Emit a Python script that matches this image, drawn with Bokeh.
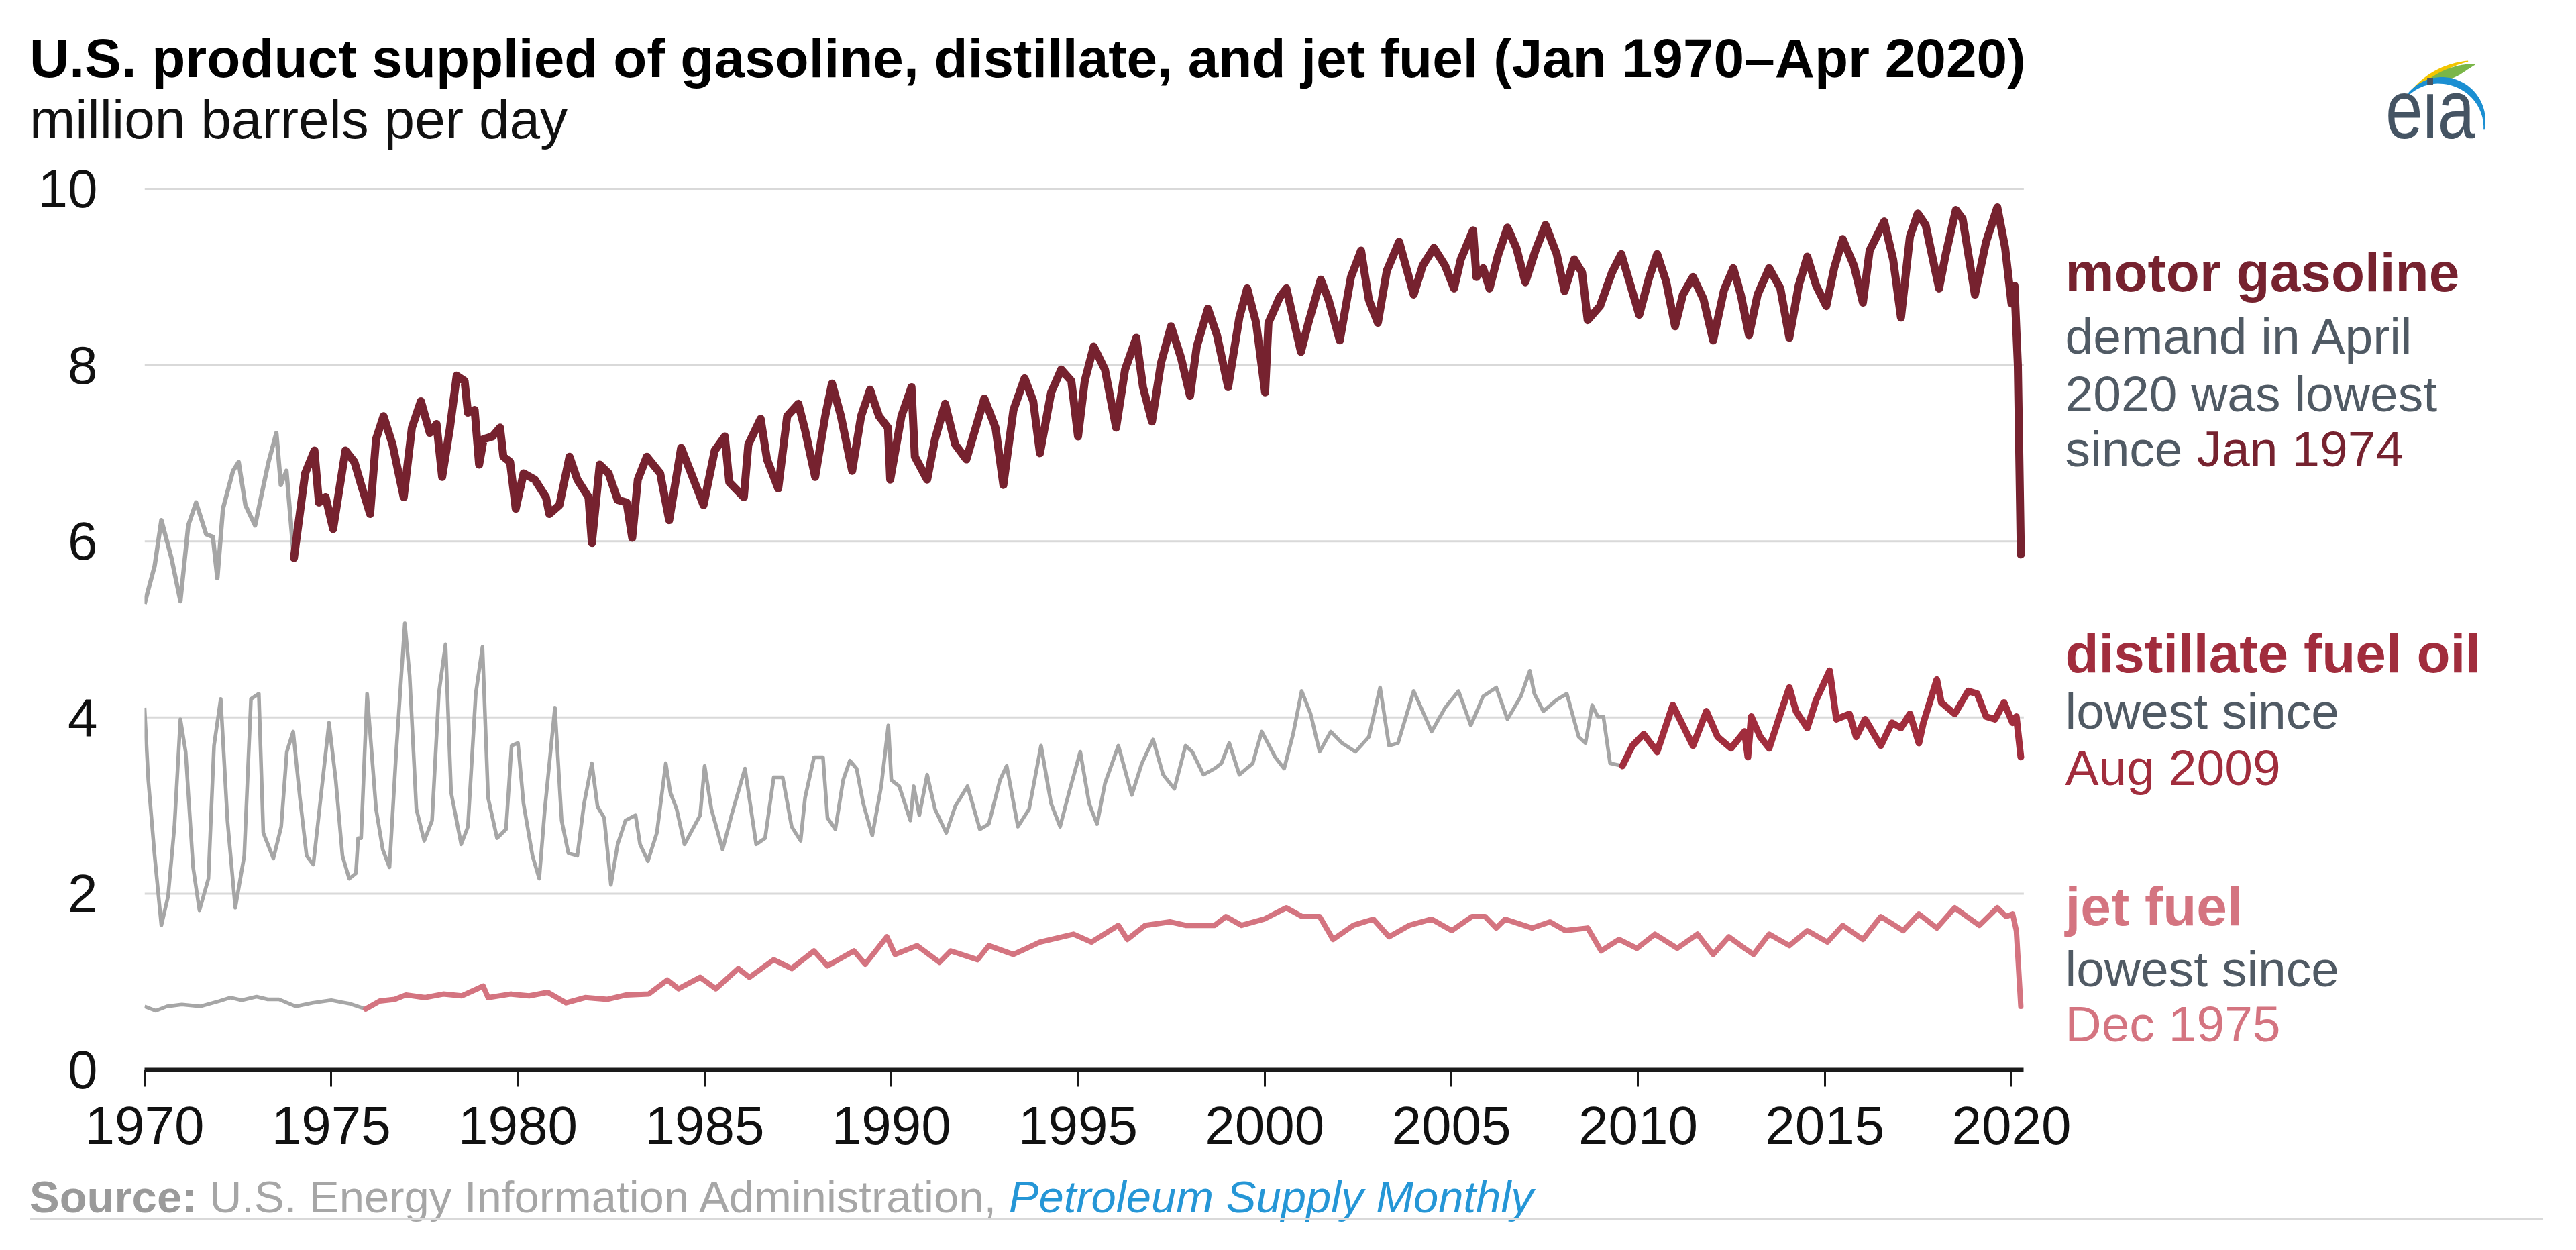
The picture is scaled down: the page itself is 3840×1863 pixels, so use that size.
import numpy as np
from bokeh.plotting import figure
from bokeh.layouts import column
from bokeh.models import Range1d, FixedTicker, Label, Div
from bokeh.embed import file_html
from bokeh.resources import INLINE

# ---------------- data ----------------
gas_t = [1970.00,1970.27,1970.45,1970.72,1970.96,1971.17,1971.38,1971.65,1971.83,1971.95,
         1972.10,1972.37,1972.52,1972.70,1972.96,1973.14,1973.32,1973.53,1973.65,1973.80,
         1974.00,1974.30,1974.55,1974.67,1974.85,1975.05,1975.38,1975.62,1975.80,1976.04,
         1976.20,1976.40,1976.64,1976.94,1977.16,1977.40,1977.64,1977.82,1977.97,1978.18,
         1978.36,1978.57,1978.66,1978.84,1978.96,1979.08,1979.32,1979.52,1979.61,1979.79,
         1979.94,1980.15,1980.45,1980.75,1980.84,1981.11,1981.38,1981.59,1981.89,1981.98,
         1982.19,1982.43,1982.67,1982.91,1983.06,1983.21,1983.45,1983.81,1984.05,1984.37,
         1984.64,1984.97,1985.27,1985.54,1985.66,1986.05,1986.17,1986.50,1986.67,1986.97,
         1987.21,1987.51,1987.69,1987.96,1988.23,1988.41,1988.65,1988.95,1989.19,1989.43,
         1989.67,1989.91,1989.97,1990.27,1990.54,1990.63,1990.96,1991.17,1991.44,1991.71,
         1992.01,1992.49,1992.79,1993.00,1993.27,1993.57,1993.80,1993.98,1994.28,1994.55,
         1994.82,1995.00,1995.18,1995.42,1995.72,1996.02,1996.26,1996.56,1996.74,1996.98,
         1997.22,1997.49,1997.76,1998.00,1998.18,1998.48,1998.72,1999.02,1999.32,1999.53,
         1999.77,2000.01,2000.10,2000.40,2000.58,2000.97,2001.17,2001.50,2001.71,2002.01,
         2002.31,2002.58,2002.79,2003.03,2003.27,2003.60,2003.99,2004.23,2004.53,2004.83,
         2005.07,2005.25,2005.58,2005.67,2005.85,2006.02,2006.25,2006.50,2006.74,2006.98,
         2007.25,2007.52,2007.82,2008.03,2008.29,2008.50,2008.65,2008.98,2009.30,2009.55,
         2009.80,2010.03,2010.30,2010.51,2010.75,2010.99,2011.20,2011.47,2011.75,2012.01,
         2012.30,2012.55,2012.75,2012.97,2013.20,2013.51,2013.81,2014.05,2014.30,2014.53,
         2014.77,2015.04,2015.25,2015.48,2015.78,2016.02,2016.20,2016.59,2016.83,2017.04,
         2017.28,2017.49,2017.70,2018.06,2018.24,2018.51,2018.69,2019.02,2019.32,2019.62,
         2019.83,2020.00,2020.08,2020.17,2020.25]
gas_v = [5.29,5.72,6.24,5.81,5.32,6.18,6.44,6.08,6.05,5.58,
         6.37,6.80,6.90,6.41,6.18,6.54,6.90,7.23,6.64,6.80,
         5.81,6.77,7.03,6.44,6.50,6.14,7.03,6.90,6.64,6.31,
         7.16,7.42,7.10,6.50,7.29,7.59,7.23,7.33,6.73,7.29,
         7.88,7.82,7.46,7.49,6.87,7.16,7.19,7.29,6.96,6.90,
         6.37,6.77,6.70,6.50,6.31,6.41,6.96,6.70,6.50,5.98,
         6.87,6.77,6.47,6.44,6.04,6.70,6.96,6.77,6.24,7.06,
         6.77,6.41,7.03,7.19,6.67,6.50,7.10,7.39,6.93,6.60,
         7.42,7.56,7.26,6.73,7.42,7.79,7.42,6.80,7.42,7.72,
         7.42,7.29,6.70,7.42,7.75,6.96,6.70,7.16,7.56,7.10,
         6.93,7.62,7.29,6.64,7.49,7.85,7.59,7.00,7.69,7.95,
         7.82,7.19,7.82,8.21,7.95,7.29,7.95,8.31,7.75,7.36,
         8.02,8.44,8.08,7.65,8.21,8.64,8.34,7.75,8.54,8.87,
         8.48,7.69,8.48,8.77,8.87,8.15,8.48,8.97,8.74,8.28,
         9.00,9.30,8.74,8.48,9.07,9.40,8.80,9.13,9.33,9.13,
         8.87,9.20,9.53,9.00,9.10,8.87,9.25,9.56,9.33,8.94,
         9.30,9.59,9.26,8.84,9.20,9.05,8.51,8.67,9.05,9.26,
         8.90,8.57,9.00,9.26,8.95,8.44,8.80,9.00,8.75,8.28,
         8.85,9.10,8.80,8.34,8.80,9.10,8.87,8.31,8.90,9.23,
         8.90,8.67,9.10,9.43,9.13,8.71,9.30,9.63,9.20,8.54,
         9.46,9.72,9.59,8.87,9.26,9.76,9.66,8.80,9.40,9.79,
         9.33,8.70,8.90,8.00,5.85]

dist_t = [1970.00,1970.10,1970.27,1970.45,1970.63,1970.80,1970.96,1971.10,1971.30,1971.47,
          1971.71,1971.86,1972.04,1972.22,1972.43,1972.67,1972.85,1973.06,1973.18,1973.45,
          1973.66,1973.81,1973.98,1974.16,1974.34,1974.52,1974.70,1974.94,1975.12,1975.30,
          1975.48,1975.66,1975.72,1975.80,1975.96,1976.20,1976.38,1976.56,1976.74,1976.97,
          1977.10,1977.28,1977.49,1977.70,1977.88,1978.06,1978.21,1978.48,1978.66,1978.87,
          1979.05,1979.20,1979.44,1979.68,1979.83,1980.00,1980.15,1980.39,1980.57,1980.72,
          1980.99,1981.17,1981.35,1981.59,1981.77,1981.98,1982.13,1982.31,1982.49,1982.67,
          1982.88,1983.15,1983.27,1983.48,1983.72,1983.96,1984.08,1984.25,1984.46,1984.88,
          1985.00,1985.18,1985.48,1985.72,1986.08,1986.38,1986.62,1986.85,1987.09,1987.33,
          1987.57,1987.69,1987.93,1988.17,1988.29,1988.50,1988.71,1988.89,1989.07,1989.25,
          1989.49,1989.73,1989.92,1990.00,1990.21,1990.51,1990.60,1990.75,1990.96,1991.17,
          1991.47,1991.71,1992.04,1992.37,1992.61,1992.91,1993.09,1993.39,1993.69,1994.01,
          1994.28,1994.52,1994.76,1995.06,1995.30,1995.51,1995.72,1996.08,1996.44,1996.71,
          1997.01,1997.28,1997.58,1997.88,1998.06,1998.36,1998.66,1998.84,1999.05,1999.32,
          1999.68,1999.92,2000.28,2000.52,2000.76,2000.99,2001.23,2001.47,2001.77,2002.07,
          2002.43,2002.79,2003.09,2003.33,2003.57,2003.99,2004.47,2004.83,2005.19,2005.52,
          2005.85,2006.20,2006.50,2006.86,2007.10,2007.22,2007.46,2007.82,2008.09,2008.41,
          2008.59,2008.77,2008.92,2009.07,2009.25,2009.58,2009.85,2010.15,2010.51,2010.93,
          2011.47,2011.83,2012.13,2012.49,2012.85,2012.94,2013.03,2013.27,2013.51,2013.81,
          2014.05,2014.23,2014.53,2014.77,2015.13,2015.31,2015.66,2015.84,2016.08,2016.50,
          2016.80,2017.04,2017.28,2017.52,2017.64,2018.00,2018.12,2018.48,2018.84,2019.08,
          2019.32,2019.56,2019.80,2020.03,2020.13,2020.25]
dist_v = [4.11,3.29,2.43,1.64,1.97,2.76,3.98,3.61,2.30,1.81,
          2.17,3.68,4.21,2.83,1.84,2.43,4.21,4.27,2.69,2.40,
          2.76,3.61,3.84,3.09,2.43,2.33,3.02,3.94,3.29,2.43,
          2.17,2.23,2.63,2.63,4.27,2.96,2.50,2.30,3.61,5.07,
          4.47,2.96,2.60,2.83,4.27,4.83,3.15,2.56,2.76,4.27,
          4.80,3.09,2.63,2.73,3.68,3.71,3.02,2.43,2.17,2.96,
          4.11,2.83,2.46,2.43,3.02,3.48,2.99,2.86,2.10,2.56,
          2.83,2.89,2.56,2.37,2.69,3.48,3.15,2.96,2.56,2.89,
          3.45,2.96,2.50,2.89,3.42,2.56,2.63,3.32,3.32,2.76,
          2.60,3.09,3.55,3.55,2.86,2.73,3.29,3.51,3.42,3.02,
          2.66,3.22,3.91,3.29,3.22,2.83,3.22,2.89,3.35,2.96,
          2.69,2.99,3.22,2.73,2.79,3.29,3.45,2.76,2.96,3.68,
          3.02,2.76,3.15,3.61,3.02,2.79,3.25,3.68,3.12,3.48,
          3.75,3.35,3.19,3.68,3.61,3.35,3.42,3.48,3.71,3.35,
          3.48,3.84,3.55,3.42,3.81,4.30,4.04,3.61,3.84,3.71,
          3.61,3.78,4.34,3.68,3.71,4.30,3.84,4.11,4.30,3.91,
          4.24,4.34,3.98,4.24,4.53,4.27,4.07,4.20,4.27,3.78,
          3.71,4.14,4.01,4.01,3.48,3.45,3.68,3.81,3.61,4.14,
          3.68,4.07,3.78,3.65,3.84,3.55,4.01,3.78,3.65,4.04,
          4.34,4.07,3.88,4.20,4.53,3.98,4.04,3.78,3.98,3.68,
          3.94,3.88,4.04,3.71,3.94,4.43,4.17,4.04,4.30,4.27,
          4.01,3.98,4.17,3.94,4.01,3.55]

jet_t = [1970.00,1970.30,1970.60,1971.00,1971.50,1972.00,1972.30,1972.60,1973.00,1973.30,
         1973.60,1974.05,1974.50,1975.00,1975.50,1975.92,1976.30,1976.70,1977.00,1977.50,
         1978.00,1978.50,1979.07,1979.20,1979.80,1980.30,1980.80,1981.29,1981.80,1982.40,
         1982.90,1983.50,1984.00,1984.30,1984.88,1985.30,1985.90,1986.20,1986.85,1987.33,
         1987.93,1988.29,1989.00,1989.30,1989.88,1990.10,1990.69,1991.29,1991.59,1992.31,
         1992.61,1993.27,1993.98,1994.88,1995.36,1996.08,1996.32,1996.80,1997.46,1997.88,
         1998.66,1998.96,1999.38,1999.98,2000.58,2001.00,2001.47,2001.83,2002.37,2002.91,
         2003.33,2003.87,2004.47,2005.01,2005.55,2005.90,2006.20,2006.44,2007.16,2007.64,
         2008.05,2008.65,2009.01,2009.49,2009.97,2010.45,2011.05,2011.59,2012.01,2012.43,
         2012.85,2013.09,2013.51,2014.05,2014.53,2015.07,2015.48,2016.02,2016.50,2017.10,
         2017.52,2018.00,2018.48,2019.14,2019.62,2019.86,2020.03,2020.13,2020.25]
jet_v = [0.72,0.67,0.72,0.74,0.72,0.78,0.82,0.79,0.83,0.80,
         0.80,0.72,0.76,0.79,0.75,0.69,0.78,0.80,0.85,0.82,
         0.86,0.84,0.95,0.82,0.86,0.84,0.88,0.76,0.82,0.80,
         0.85,0.86,1.02,0.92,1.05,0.92,1.15,1.05,1.25,1.15,
         1.35,1.18,1.35,1.20,1.51,1.31,1.41,1.22,1.35,1.25,
         1.41,1.31,1.45,1.54,1.45,1.64,1.48,1.64,1.68,1.64,
         1.64,1.74,1.64,1.71,1.84,1.74,1.74,1.48,1.64,1.71,
         1.51,1.64,1.71,1.58,1.74,1.74,1.61,1.71,1.61,1.68,
         1.58,1.61,1.35,1.48,1.38,1.54,1.38,1.54,1.31,1.51,
         1.38,1.31,1.54,1.41,1.58,1.45,1.64,1.48,1.74,1.58,
         1.77,1.61,1.84,1.64,1.84,1.74,1.77,1.58,0.72]

gas_cut, dist_cut, jet_cut = 1974.00, 2009.58, 1975.92
x_ticks = [1970, 1975, 1980, 1985, 1990, 1995, 2000, 2005, 2010, 2015, 2020]
y_ticks = [0, 2, 4, 6, 8, 10]
x_start, x_end = 1970.0, 2020.33

TITLE = "U.S. product supplied of gasoline, distillate, and jet fuel (Jan 1970\u2013Apr 2020)"
SUBTITLE = "million barrels per day"

# ---------------- styles ----------------
GAS_C, DIST_C, JET_C, GRAY = "#76222f", "#a12d3d", "#d47480", "#a6a6a6"
NOTE_C = "#505a64"
FONT = "Liberation Sans"
CSSFONT = "'Liberation Sans', Arial, sans-serif"
W = 3830

# ---------- header (title, subtitle, logo) as HTML ----------
HH = 235

def crescent_path(cx, cy, r, a0, a1, wmax, ox, oy):
    a = np.radians(np.linspace(a0, a1, 40))
    w = wmax * np.sin(np.linspace(0, np.pi, 40)) + 1.5
    xo = cx + r * np.cos(a) - ox; yo = cy - r * np.sin(a) - oy
    xi = cx + (r - w) * np.cos(a) - ox; yi = cy - (r - w) * np.sin(a) - oy
    pts = list(zip(xo, yo)) + list(zip(xi[::-1], yi[::-1]))
    return "M" + " L".join(f"{x:.1f},{y:.1f}" for x, y in pts) + " Z"

LX, LY = 3540, 50
logo_svg = (
    f'<svg style="position:absolute;left:{LX}px;top:{LY}px" width="220" height="170">'
    f'<path d="{crescent_path(3690, 215, 125, 143, 95, 5, LX, LY)}" fill="#f2c500"/>'
    f'<path d="{crescent_path(3690, 210, 115, 130, 90, 14, LX, LY)}" fill="#7ab648"/>'
    f'<path d="{crescent_path(3640, 180, 65, 150, -12, 9, LX, LY)}" fill="#1b8fd2"/>'
    '</svg>')

def abs_text(left, top, size, text, color, weight="normal", style="normal", extra=""):
    return (f'<div style="position:absolute;left:{left}px;top:{top}px;font-size:{size}px;'
            f'line-height:1;white-space:nowrap;color:{color};font-weight:{weight};'
            f'font-style:{style};font-family:{CSSFONT};{extra}">{text}</div>')

header_html = (
    f'<div style="position:relative;width:{W}px;height:{HH}px;overflow:visible">'
    + abs_text(44, 115 - 0.8465 * 82, 82, TITLE, "#000000", "bold")
    + abs_text(44, 206 - 0.8465 * 82, 82, SUBTITLE, "#111111")
    + logo_svg
    + abs_text(3556, 206 - 0.8465 * 100, 100, "eia", "#455463",
               extra="transform:scaleY(1.25);transform-origin:0 84.65px")
    + '</div>')
hdr = Div(text=header_html, width=W, height=HH, margin=(0, 0, 0, 0))

# ---------- main chart ----------
MH = 1505
FL = 215                 # frame left (px)
FBm = 1594 - HH          # frame bottom inside main figure (px)
PXY = 55.66              # px per year
PXV = 131.3              # px per unit
X1 = 1970 + (W - FL) / PXY
Y1 = FBm / PXV

p = figure(width=W, height=MH, output_backend="svg", toolbar_location=None,
           x_range=Range1d(1970, X1), y_range=Range1d(0, Y1),
           min_border_left=FL, min_border_right=0,
           min_border_top=0, min_border_bottom=MH - FBm, margin=(0, 0, 0, 0))
p.outline_line_color = None
p.background_fill_color = "white"
p.border_fill_color = "white"
p.xgrid.visible = False
p.ygrid.visible = False

p.yaxis.ticker = FixedTicker(ticks=y_ticks)
p.xaxis.ticker = FixedTicker(ticks=x_ticks)
p.yaxis.axis_line_color = None
p.yaxis.major_tick_line_color = None
p.yaxis.minor_tick_line_color = None
p.yaxis.major_label_standoff = 64
p.xaxis.bounds = (x_start, x_end)
p.xaxis.axis_line_color = "#1a1a1a"
p.xaxis.axis_line_width = 6
p.xaxis.major_tick_line_color = "#1a1a1a"
p.xaxis.major_tick_line_width = 3
p.xaxis.major_tick_out = 25
p.xaxis.major_tick_in = 0
p.xaxis.minor_tick_line_color = None
p.xaxis.major_label_standoff = 30
for ax in (p.xaxis, p.yaxis):
    ax.major_label_text_font = FONT
    ax.major_label_text_font_size = "80px"
    ax.major_label_text_color = "#111111"

gy = [t for t in y_ticks if t > 0]
p.segment(x0=[x_start] * len(gy), x1=[x_end] * len(gy), y0=gy, y1=gy,
          line_color="#d9d9d9", line_width=3)

def split(t, v, cut):
    t = np.array(t); v = np.array(v)
    a = t <= cut + 1e-9
    b = t >= cut - 1e-9
    return (t[a], v[a]), (t[b], v[b])

(gt, gv), (ct, cv) = split(jet_t, jet_v, jet_cut)
p.line(gt, gv, line_color=GRAY, line_width=5.5, line_join="round")
p.line(ct, cv, line_color=JET_C, line_width=8, line_join="round", line_cap="round")
(gt, gv), (ct, cv) = split(dist_t, dist_v, dist_cut)
p.line(gt, gv, line_color=GRAY, line_width=5.5, line_join="round")
p.line(ct, cv, line_color=DIST_C, line_width=10, line_join="round", line_cap="round")
(gt, gv), (ct, cv) = split(gas_t, gas_v, gas_cut)
p.line(gt, gv, line_color=GRAY, line_width=6.5, line_join="round")
p.line(ct, cv, line_color=GAS_C, line_width=12, line_join="round", line_cap="round")

def mlab(px, py_full, text, size, color, style="normal"):
    x = 1970 + (px - FL) / PXY
    y = (FBm - (py_full - HH)) / PXV
    p.add_layout(Label(x=x, y=y, text=text, text_font=FONT,
                       text_font_size=f"{size}px", text_color=color,
                       text_font_style=style, text_baseline="alphabetic",
                       text_align="left"))

NX = 3078
mlab(NX, 405, "motor gasoline", 82, GAS_C, "bold")
mlab(NX, 500, "demand in April", 75, NOTE_C)
mlab(NX, 586, "2020 was lowest", 75, NOTE_C)
mlab(NX, 668, "since ", 75, NOTE_C)
mlab(NX + 196, 668, "Jan 1974", 75, GAS_C)
mlab(NX, 973, "distillate fuel oil", 82, DIST_C, "bold")
mlab(NX, 1059, "lowest since", 75, NOTE_C)
mlab(NX, 1143, "Aug 2009", 75, DIST_C)
mlab(NX, 1350, "jet fuel", 82, JET_C, "bold")
mlab(NX, 1443, "lowest since", 75, NOTE_C)
mlab(NX, 1525, "Dec 1975", 75, JET_C)

# ---------- footer (source + rule) as HTML ----------
FH = 115
FY0 = HH + MH
src_top = (1807 - FY0) - 0.8465 * 67
footer_html = (
    f'<div style="position:relative;width:{W}px;height:{FH}px;overflow:visible">'
    f'<div style="position:absolute;left:44px;top:{src_top:.1f}px;font-size:67px;line-height:1;'
    f'white-space:nowrap;color:#a6a6a6;font-family:{CSSFONT}">'
    '<span style="font-weight:bold;color:#9a9a9a">Source:</span> '
    'U.S. Energy Information Administration, '
    '<span style="font-style:italic;color:#2596d6">Petroleum Supply Monthly</span></div>'
    f'<div style="position:absolute;left:44px;top:{1817 - FY0 - 1.5:.1f}px;width:{3791 - 44}px;'
    'height:3px;background:#d9d9d9"></div>'
    '</div>')
ftr = Div(text=footer_html, width=W, height=FH, margin=(0, 0, 0, 0))

layout = column(hdr, p, ftr, spacing=0)
open("out.html", "w").write(file_html(layout, INLINE))
